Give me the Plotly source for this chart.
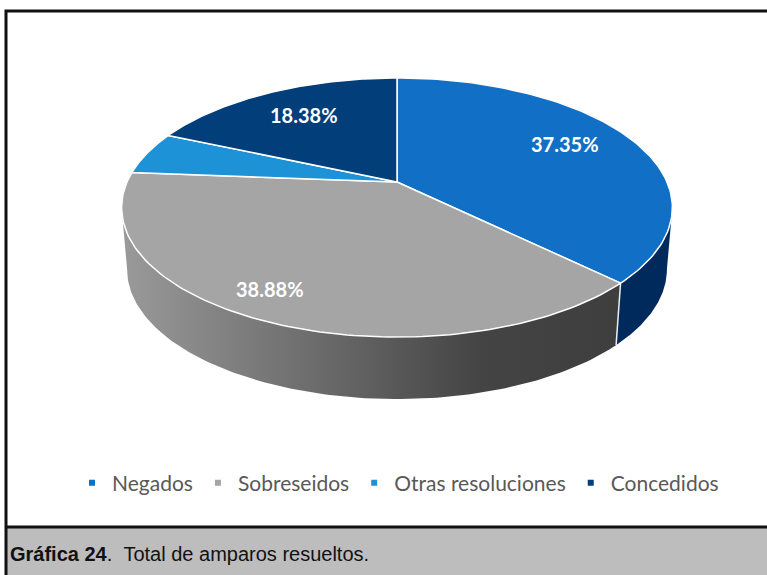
import numpy as np
import plotly.graph_objects as go

categories = ["Negados", "Sobreseidos", "Otras resoluciones", "Concedidos"]
shares = [37.35, 38.88, 5.39, 18.38]
top_colors = ["#1170C6", "#A5A5A5", "#1E92D6", "#013E7A"]

W, H = 767, 575
CX, CY = 397, 182        # apex of the pie in page pixels
RX, RY = 270, 124.5      # pixels per disc unit
K = 0.197                # perspective of the tilted disc
DEPTH = 62 / RY          # thickness in disc units
TAPER = 0.98             # lower rim is slightly narrower than the upper one


def project(theta, drop=0.0, taper=1.0):
    u, v = np.sin(theta), np.cos(theta)
    s = 1 + K * v
    return taper * u / s, v / s - drop


def arc(a, b, n=120):
    return np.linspace(a, b, n)


fractions = np.cumsum([0] + shares) / sum(shares)
angles = 2 * np.pi * fractions
left_tangent = np.arccos(-K)
negados_end = angles[1]

fig = go.Figure()

# side wall
side_parts = [
    (left_tangent, negados_end, "#012A5C", None),
    (negados_end, 2 * np.pi - left_tangent, None,
     dict(type="horizontal", colorscale=[[0, "#9A9A9A"], [0.72, "#444444"], [1, "#3E3E3E"]])),
]
for a, b, color, grad in side_parts:
    t = arc(a, b)
    x1, y1 = project(t)
    x2, y2 = project(t[::-1], DEPTH, TAPER)
    kw = dict(fillcolor=color) if grad is None else dict(fillgradient=grad)
    fig.add_trace(go.Scatter(
        x=np.r_[x1, x2, x1[0]], y=np.r_[y1, y2, y1[0]], mode="lines", fill="toself",
        line=dict(width=0), hoverinfo="skip", showlegend=False, **kw))

# divider on the side wall
xd0, yd0 = project(negados_end)
xd1, yd1 = project(negados_end, DEPTH, TAPER)
fig.add_trace(go.Scatter(x=[xd0, xd1], y=[yd0, yd1], mode="lines", line=dict(color="#E8EEF2", width=1.5),
                         hoverinfo="skip", showlegend=False))

# top face
for i, name in enumerate(categories):
    x, y = project(arc(angles[i], angles[i + 1]))
    fig.add_trace(go.Scatter(
        x=np.r_[0, x, 0], y=np.r_[0, y, 0], mode="lines", fill="toself",
        fillcolor=top_colors[i], line=dict(color="white", width=1.5),
        name=name, showlegend=False, hoverinfo="skip"))

# legend entries
for name, color in zip(categories, top_colors):
    fig.add_trace(go.Scatter(x=[None], y=[None], mode="markers", name=name,
                             marker=dict(symbol="square", size=6, color=color)))

label_pos = {0: (565, 144), 1: (270, 289), 3: (304, 115)}
annotations = []
for i, (px, py) in label_pos.items():
    annotations.append(dict(xref="paper", yref="paper", x=px / W, y=1 - py / H,
                            text=f"{shares[i]:.2f}%", showarrow=False, xanchor="center", yanchor="middle",
                            font=dict(family="Lato", size=20, color="white", weight="bold")))
annotations.append(dict(xref="paper", yref="paper", x=8 / W, y=1 - 554 / H, xanchor="left", yanchor="middle",
                        text="<b>Gráfica 24</b>.&nbsp;&nbsp;Total de amparos resueltos.", showarrow=False,
                        font=dict(family="Liberation Sans", size=20, color="#111111")))

shapes = [
    dict(type="rect", xref="paper", yref="paper", x0=6 / W, x1=1.02, y0=-0.02, y1=1 - 527 / H,
         fillcolor="#BDBDBD", line=dict(width=0), layer="below"),
    dict(type="rect", xref="paper", yref="paper", x0=6 / W, x1=1.02, y0=-0.02, y1=1 - 11 / H,
         fillcolor="rgba(0,0,0,0)", line=dict(color="#111111", width=3), layer="below"),
    dict(type="line", xref="paper", yref="paper", x0=6 / W, x1=1.02, y0=1 - 527 / H, y1=1 - 527 / H,
         line=dict(color="#111111", width=3), layer="below"),
]

fig.update_layout(
    width=W, height=H, margin=dict(l=0, r=0, t=0, b=0),
    paper_bgcolor="white", plot_bgcolor="rgba(0,0,0,0)",
    xaxis=dict(range=[-CX / RX, (W - CX) / RX], visible=False, fixedrange=True),
    yaxis=dict(range=[-(H - CY) / RY, CY / RY], visible=False, fixedrange=True),
    legend=dict(orientation="h", x=72 / W, xanchor="left", y=1 - 483 / H, yanchor="middle",
                font=dict(family="Lato", size=21, color="#595959"), itemwidth=30,
                bgcolor="rgba(0,0,0,0)", traceorder="normal"),
    annotations=annotations, shapes=shapes,
)
fig.write_html("out.html", config=dict(displayModeBar=False),
               post_script="document.body.style.margin='0';document.body.style.overflow='hidden';")
